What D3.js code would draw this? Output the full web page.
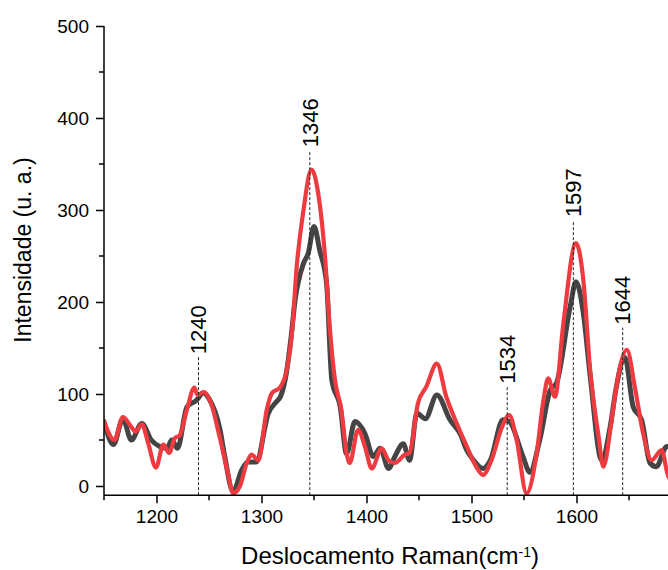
<!DOCTYPE html>
<html>
<head>
<meta charset="utf-8">
<script src="https://cdn.jsdelivr.net/npm/d3@7"></script>
<style>
  html, body { margin: 0; padding: 0; background: #fff; }
  svg { display: block; }
  text { font-family: Arial, "Liberation Sans", sans-serif; fill: #000; }
</style>
</head>
<body>
<div id="chart"></div>
<script>
// ---- data ----
const grayX = [1150,1159,1168,1176,1186,1195,1203,1210,1214.5,1220,1229,1238,1244.5,1250,1260.5,1265,1273,1281,1287,1295,1306.5,1314.5,1318,1324,1328,1332,1340,1344.5,1350,1355.5,1362,1367,1375,1381,1389,1398.5,1406.5,1413,1421,1427,1435,1441,1448,1456,1467,1479.5,1490,1495,1502,1511,1518,1530,1536,1549,1555.5,1565,1575,1581,1594,1599.5,1606.5,1613,1624,1632,1638,1646,1654,1662,1670,1676,1686,1695];
const grayY = [70,45,73,50,68,50,43,41,50,41,86,93,101,95,61,32,-6,17,26,26,79,92,97,125,160,202,242,253,282,256,220,115,86,35,70,57,32,41,19,32,46,28,79,73,99,72,55,40,28,19,28,72,70,32,15,50,104,112,195,222,188,120,28,64,108,140,86,72,25,21,43,40];

const redX = [1150,1160,1168,1175,1180,1186,1192,1199.5,1206.5,1212,1217.5,1222,1229,1236,1239,1245,1251,1260,1268,1273,1279.5,1286,1290.5,1297,1305,1310,1317.5,1324,1329,1333.5,1340,1347.5,1354,1360.5,1365,1370,1376,1381,1384,1392,1398.5,1405,1414.5,1421,1427,1436.5,1441,1449,1457,1467,1476,1486,1495.5,1505,1511,1519,1529,1536,1543,1552.5,1562,1568.5,1573,1579.5,1587.5,1599.5,1606.5,1613,1621,1625.5,1633.5,1638,1648,1655.5,1663.5,1671.5,1681,1687,1695];
const redY = [70,50,75,66,59,67,47,20,45,36,52,55,83,107,99,102,93,54,14,-8,0,25,34,28,83,101,107,126,166,238,300,344,318,249,173,115,83,36,25,61,43,19,41,28,25,34,36,90,108,133,97,68,43,20,12,28,64,77,50,-8,35,93,117,97,177,264,224,126,54,21,72,108,148,108,57,28,39,12,0];

const peakPos = [1240, 1346, 1534, 1597, 1644];
const peakLabels = ["1240", "1346", "1534", "1597", "1644"];
const peakTop = [140, 365, 108, 289, 172];

const xMajor = [1200, 1300, 1400, 1500, 1600];
const xMinor = [1150, 1250, 1350, 1450, 1550, 1650];
const yMajor = [0, 100, 200, 300, 400, 500];
const yMinor = [50, 150, 250, 350, 450];

const xTitle = "Deslocamento Raman(cm";
const yTitle = "Intensidade (u. a.)";

// ---- chart ----
const W = 668, H = 570;
const svg = d3.select("#chart").append("svg").attr("width", W).attr("height", H);

const x = d3.scaleLinear().domain([1150, 1700]).range([104, 681.5]);
const y = d3.scaleLinear().domain([-10, 500]).range([495.2, 26]);

svg.append("defs").append("clipPath").attr("id", "clip")
  .append("rect").attr("x", 104).attr("y", 0).attr("width", 600).attr("height", 495.2);

const line = d3.line().x(d => x(d[0])).y(d => y(d[1])).curve(d3.curveMonotoneX);

const plot = svg.append("g").attr("clip-path", "url(#clip)");
plot.append("path").datum(grayX.map((v, i) => [v, grayY[i]]))
  .attr("d", line).attr("fill", "none").attr("stroke", "#444444")
  .attr("stroke-width", 5).attr("stroke-linejoin", "round").attr("stroke-linecap", "round");
plot.append("path").datum(redX.map((v, i) => [v, redY[i]]))
  .attr("d", line).attr("fill", "none").attr("stroke", "#EE3B40")
  .attr("stroke-width", 4.2).attr("stroke-linejoin", "round").attr("stroke-linecap", "round");

// dashed peak markers
const ann = svg.append("g");
peakPos.forEach((p, i) => {
  ann.append("line")
    .attr("x1", x(p)).attr("x2", x(p))
    .attr("y1", y(-10)).attr("y2", y(peakTop[i]))
    .attr("stroke", "#222").attr("stroke-width", 1).attr("stroke-dasharray", "3,2");
  ann.append("text")
    .attr("transform", `translate(${x(p)},${y(peakTop[i]) - 3}) rotate(-90)`)
    .attr("dy", "0.35em")
    .attr("text-anchor", "start")
    .style("font-size", "22px")
    .text(peakLabels[i]);
});

// axes
const xAxis = d3.axisBottom(x).tickValues(xMajor).tickSize(8).tickPadding(6).tickFormat(d3.format("d"));
const gx = svg.append("g").attr("transform", `translate(0,${y(-10)})`).call(xAxis);
gx.selectAll("text").style("font-size", "19px");
gx.append("g").selectAll("line").data(xMinor).join("line")
  .attr("x1", d => x(d)).attr("x2", d => x(d)).attr("y1", 0).attr("y2", 5)
  .attr("stroke", "#000").attr("stroke-width", 1.5);

const yAxis = d3.axisLeft(y).tickValues(yMajor).tickSize(8).tickPadding(7).tickFormat(d3.format("d"));
const gy = svg.append("g").attr("transform", `translate(104,0)`).call(yAxis);
gy.selectAll("text").style("font-size", "19px");
gy.append("g").selectAll("line").data(yMinor).join("line")
  .attr("x1", 0).attr("x2", -5).attr("y1", d => y(d)).attr("y2", d => y(d))
  .attr("stroke", "#000").attr("stroke-width", 1.5);

[gx, gy].forEach(g => {
  g.select(".domain").attr("stroke", "#000").attr("stroke-width", 1.5);
  g.selectAll(".tick line").attr("stroke", "#000").attr("stroke-width", 1.5);
});
gx.select(".domain").attr("d", `M104,0H${W}`);
gy.select(".domain").attr("d", `M0,${y(500)}V${y(-10)}`);

// titles
const xt = svg.append("text").attr("x", 390).attr("y", 564)
  .attr("text-anchor", "middle").style("font-size", "24px");
xt.append("tspan").text(xTitle);
xt.append("tspan").attr("dy", "-0.5em").style("font-size", "14px").text("-1");
xt.append("tspan").attr("dy", "0.3em").text(")");

svg.append("text")
  .attr("transform", "translate(31,250) rotate(-90)")
  .attr("text-anchor", "middle").style("font-size", "23px")
  .text(yTitle);
</script>
</body>
</html>
